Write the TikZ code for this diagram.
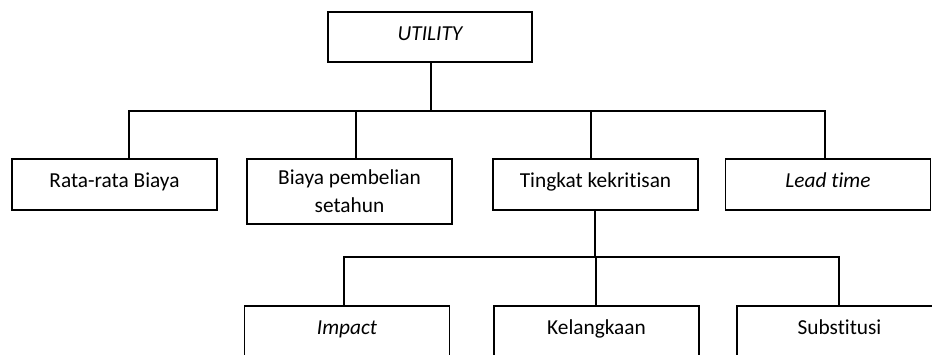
\documentclass[tikz,border=0pt]{standalone}
\usepackage{fontspec}
\setmainfont{Carlito}[Ligatures=NoCommon]
\usepackage{tikz}
\usetikzlibrary{positioning, calc}
\tikzset{
  basebox/.style={
    draw, line width=1.2pt, minimum width=153.75pt, minimum height=38.25pt,
    inner sep=2pt, align=center, font=\fontsize{16}{21}\selectfont
  },
  ahpbox/.style={basebox, text height=11pt, text depth=6pt},
  tallbox/.style={basebox, minimum height=48.75pt},
  goalbox/.style={ahpbox, minimum width=153pt, minimum height=37.5pt, font=\fontsize{16}{21}\selectfont\itshape},
  link/.style={line width=1.2pt, line cap=rect}
}

\begin{document}
\begin{tikzpicture}[x=0.75pt, y=-0.75pt]
  \useasboundingbox (0,0) rectangle (932,354);
  \clip (0,0) rectangle (932,354);
  % goal
  \node[goalbox] (util) at (430,37) {UTILITY};
  % criteria
  \node[ahpbox] (rata) at (114.5,184.5) {Rata-rata Biaya};
  \node[tallbox] (beli) at (349.5,191.5) {Biaya pembelian\\setahun};
  \node[ahpbox] (kritis) at (595.5,184.5) {Tingkat kekritisan};
  \node[ahpbox] (lead) at (828,184.5) {\itshape Lead time};
  % sub-criteria
  \node[ahpbox] (impact) at (347,331.5) {\itshape Impact};
  \node[ahpbox] (langka) at (596.5,331.5) {Kelangkaan};
  \node[ahpbox] (subst) at (839.5,331.5) {Substitusi};
  % first level bus
  \coordinate (busA) at (129,111);
  \coordinate (busB) at (825,111);
  \draw[link] (util.south -| 431,0) -- (431,111);
  \draw[link] (busA) -- (busB);
  \foreach \n/\x in {rata/129, beli/356, kritis/591, lead/825}{
    \draw[link] (\x,111) -- (\n.north -| \x,0);
  }
  % second level bus
  \coordinate (busC) at (344,257);
  \coordinate (busD) at (839,257);
  \draw[link] (kritis.south -| 595,0) -- (595,257);
  \draw[link] (busC) -- (busD);
  \foreach \n/\x in {impact/344, langka/596, subst/839}{
    \draw[link] (\x,257) -- (\n.north -| \x,0);
  }
\end{tikzpicture}
\end{document}
